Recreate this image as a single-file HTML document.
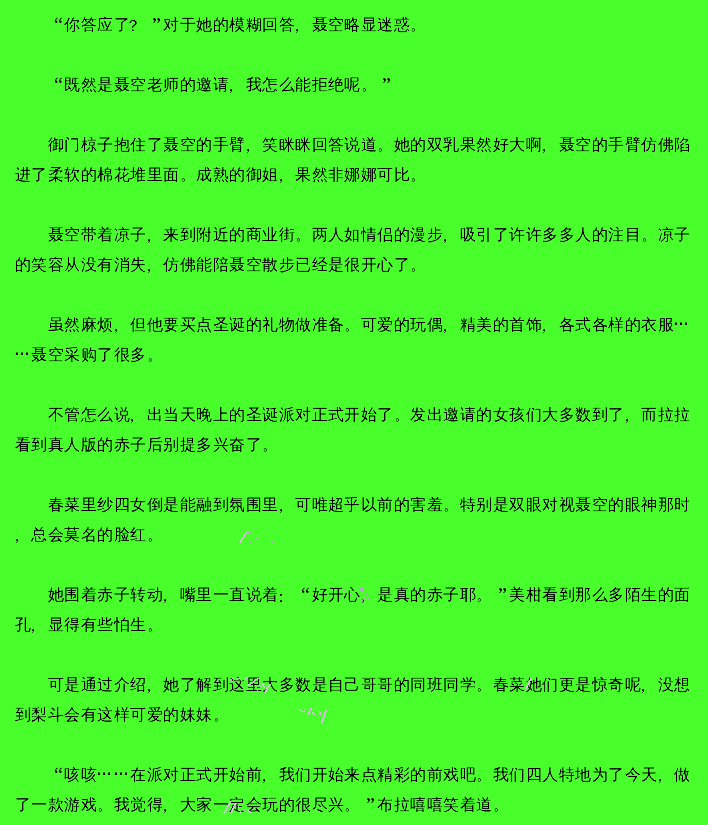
<!DOCTYPE html>
<html><head><meta charset="utf-8"><title>page</title>
<style>
html,body{margin:0;padding:0;}
body{width:708px;height:825px;overflow:hidden;background:#49ff2b;color:#000;position:relative;
font-family:"Liberation Sans",sans-serif;font-size:16px;}
#txt{position:absolute;left:0;top:0;width:708px;height:825px;filter:url(#crisp);}
.l{position:absolute;left:15px;line-height:30px;white-space:nowrap;}
.l span{display:inline-block;vertical-align:top;height:30px;overflow:visible;}
.a{width:16px} .b{width:17px}
.c{text-indent:-6px;position:relative;top:1px}
.k{text-indent:-6px;position:relative;top:2px}
.w{text-indent:-5px;position:relative;top:1px}
.ql,.qr{font-family:"Liberation Serif",serif;font-size:20px;text-indent:6px;position:relative;top:0px}
.qr{text-indent:5px}
.e{position:relative;top:-5px;text-indent:-1px;font-weight:bold}
</style></head><body>
<svg width="0" height="0" style="position:absolute"><filter id="crisp" x="0" y="0" width="100%" height="100%"><feComponentTransfer><feFuncA type="linear" slope="1.6" intercept="-0.3"/></feComponentTransfer></filter></svg>
<div id="txt">
<div class="l" style="top:10px"><span class="a">　</span><span class="b">　</span><span class="a ql">“</span><span class="b">你</span><span class="a">答</span><span class="b">应</span><span class="a">了</span><span class="b w">？</span><span class="a qr">”</span><span class="b">对</span><span class="a">于</span><span class="b">她</span><span class="a">的</span><span class="b">模</span><span class="a">糊</span><span class="b">回</span><span class="a">答</span><span class="b c">，</span><span class="a">聂</span><span class="a">空</span><span class="b">略</span><span class="a">显</span><span class="b">迷</span><span class="a">惑</span><span class="b p">。</span></div>
<div class="l" style="top:70px"><span class="a">　</span><span class="b">　</span><span class="a ql">“</span><span class="b">既</span><span class="a">然</span><span class="b">是</span><span class="a">聂</span><span class="b">空</span><span class="a">老</span><span class="b">师</span><span class="a">的</span><span class="b">邀</span><span class="a">请</span><span class="b c">，</span><span class="a">我</span><span class="b">怎</span><span class="a">么</span><span class="b">能</span><span class="a">拒</span><span class="a">绝</span><span class="b">呢</span><span class="a p">。</span><span class="b qr">”</span></div>
<div class="l" style="top:130px"><span class="a">　</span><span class="b">　</span><span class="a">御</span><span class="b">门</span><span class="a">椋</span><span class="b">子</span><span class="a">抱</span><span class="b">住</span><span class="a">了</span><span class="b">聂</span><span class="a">空</span><span class="b">的</span><span class="a">手</span><span class="b">臂</span><span class="a c">，</span><span class="b">笑</span><span class="a">眯</span><span class="b">眯</span><span class="a">回</span><span class="a">答</span><span class="b">说</span><span class="a">道</span><span class="b p">。</span><span class="a">她</span><span class="b">的</span><span class="a">双</span><span class="b">乳</span><span class="a">果</span><span class="b">然</span><span class="a">好</span><span class="b">大</span><span class="a">啊</span><span class="b c">，</span><span class="a">聂</span><span class="b">空</span><span class="a">的</span><span class="b">手</span><span class="a">臂</span><span class="b">仿</span><span class="a">佛</span><span class="a">陷</span></div>
<div class="l" style="top:160px"><span class="a">进</span><span class="b">了</span><span class="a">柔</span><span class="b">软</span><span class="a">的</span><span class="b">棉</span><span class="a">花</span><span class="b">堆</span><span class="a">里</span><span class="b">面</span><span class="a p">。</span><span class="b">成</span><span class="a">熟</span><span class="b">的</span><span class="a">御</span><span class="b">姐</span><span class="a c">，</span><span class="b">果</span><span class="a">然</span><span class="a">非</span><span class="b">娜</span><span class="a">娜</span><span class="b">可</span><span class="a">比</span><span class="b p">。</span></div>
<div class="l" style="top:220px"><span class="a">　</span><span class="b">　</span><span class="a">聂</span><span class="b">空</span><span class="a">带</span><span class="b">着</span><span class="a">凉</span><span class="b">子</span><span class="a c">，</span><span class="b">来</span><span class="a">到</span><span class="b">附</span><span class="a">近</span><span class="b">的</span><span class="a">商</span><span class="b">业</span><span class="a">街</span><span class="b p">。</span><span class="a">两</span><span class="a">人</span><span class="b">如</span><span class="a">情</span><span class="b">侣</span><span class="a">的</span><span class="b">漫</span><span class="a">步</span><span class="b c">，</span><span class="a">吸</span><span class="b">引</span><span class="a">了</span><span class="b">许</span><span class="a">许</span><span class="b">多</span><span class="a">多</span><span class="b">人</span><span class="a">的</span><span class="b">注</span><span class="a">目</span><span class="b p">。</span><span class="a">凉</span><span class="a">子</span></div>
<div class="l" style="top:250px"><span class="a">的</span><span class="b">笑</span><span class="a">容</span><span class="b">从</span><span class="a">没</span><span class="b">有</span><span class="a">消</span><span class="b">失</span><span class="a c">，</span><span class="b">仿</span><span class="a">佛</span><span class="b">能</span><span class="a">陪</span><span class="b">聂</span><span class="a">空</span><span class="b">散</span><span class="a">步</span><span class="b">已</span><span class="a">经</span><span class="a">是</span><span class="b">很</span><span class="a">开</span><span class="b">心</span><span class="a">了</span><span class="b p">。</span></div>
<div class="l" style="top:310px"><span class="a">　</span><span class="b">　</span><span class="a">虽</span><span class="b">然</span><span class="a">麻</span><span class="b">烦</span><span class="a c">，</span><span class="b">但</span><span class="a">他</span><span class="b">要</span><span class="a">买</span><span class="b">点</span><span class="a">圣</span><span class="b">诞</span><span class="a">的</span><span class="b">礼</span><span class="a">物</span><span class="b">做</span><span class="a">准</span><span class="a">备</span><span class="b p">。</span><span class="a">可</span><span class="b">爱</span><span class="a">的</span><span class="b">玩</span><span class="a">偶</span><span class="b c">，</span><span class="a">精</span><span class="b">美</span><span class="a">的</span><span class="b">首</span><span class="a">饰</span><span class="b c">，</span><span class="a">各</span><span class="b">式</span><span class="a">各</span><span class="b">样</span><span class="a">的</span><span class="b">衣</span><span class="a">服</span><span class="a e">…</span></div>
<div class="l" style="top:340px"><span class="a e">…</span><span class="b">聂</span><span class="a">空</span><span class="b">采</span><span class="a">购</span><span class="b">了</span><span class="a">很</span><span class="b">多</span><span class="a p">。</span></div>
<div class="l" style="top:400px"><span class="a">　</span><span class="b">　</span><span class="a">不</span><span class="b">管</span><span class="a">怎</span><span class="b">么</span><span class="a">说</span><span class="b c">，</span><span class="a">出</span><span class="b">当</span><span class="a">天</span><span class="b">晚</span><span class="a">上</span><span class="b">的</span><span class="a">圣</span><span class="b">诞</span><span class="a">派</span><span class="b">对</span><span class="a">正</span><span class="a">式</span><span class="b">开</span><span class="a">始</span><span class="b">了</span><span class="a p">。</span><span class="b">发</span><span class="a">出</span><span class="b">邀</span><span class="a">请</span><span class="b">的</span><span class="a">女</span><span class="b">孩</span><span class="a">们</span><span class="b">大</span><span class="a">多</span><span class="b">数</span><span class="a">到</span><span class="b">了</span><span class="a c">，</span><span class="b">而</span><span class="a">拉</span><span class="a">拉</span></div>
<div class="l" style="top:430px"><span class="a">看</span><span class="b">到</span><span class="a">真</span><span class="b">人</span><span class="a">版</span><span class="b">的</span><span class="a">赤</span><span class="b">子</span><span class="a">后</span><span class="b">别</span><span class="a">提</span><span class="b">多</span><span class="a">兴</span><span class="b">奋</span><span class="a">了</span><span class="b p">。</span></div>
<div class="l" style="top:490px"><span class="a">　</span><span class="b">　</span><span class="a">春</span><span class="b">菜</span><span class="a">里</span><span class="b">纱</span><span class="a">四</span><span class="b">女</span><span class="a">倒</span><span class="b">是</span><span class="a">能</span><span class="b">融</span><span class="a">到</span><span class="b">氛</span><span class="a">围</span><span class="b">里</span><span class="a c">，</span><span class="b">可</span><span class="a">唯</span><span class="a">超</span><span class="b">乎</span><span class="a">以</span><span class="b">前</span><span class="a">的</span><span class="b">害</span><span class="a">羞</span><span class="b p">。</span><span class="a">特</span><span class="b">别</span><span class="a">是</span><span class="b">双</span><span class="a">眼</span><span class="b">对</span><span class="a">视</span><span class="b">聂</span><span class="a">空</span><span class="b">的</span><span class="a">眼</span><span class="b">神</span><span class="a">那</span><span class="a">时</span></div>
<div class="l" style="top:520px"><span class="a c">，</span><span class="b">总</span><span class="a">会</span><span class="b">莫</span><span class="a">名</span><span class="b">的</span><span class="a">脸</span><span class="b">红</span><span class="a p">。</span></div>
<div class="l" style="top:580px"><span class="a">　</span><span class="b">　</span><span class="a">她</span><span class="b">围</span><span class="a">着</span><span class="b">赤</span><span class="a">子</span><span class="b">转</span><span class="a">动</span><span class="b c">，</span><span class="a">嘴</span><span class="b">里</span><span class="a">一</span><span class="b">直</span><span class="a">说</span><span class="b">着</span><span class="a k">：</span><span class="b ql">“</span><span class="a">好</span><span class="a">开</span><span class="b">心</span><span class="a c">，</span><span class="b">是</span><span class="a">真</span><span class="b">的</span><span class="a">赤</span><span class="b">子</span><span class="a">耶</span><span class="b p">。</span><span class="a qr">”</span><span class="b">美</span><span class="a">柑</span><span class="b">看</span><span class="a">到</span><span class="b">那</span><span class="a">么</span><span class="b">多</span><span class="a">陌</span><span class="b">生</span><span class="a">的</span><span class="a">面</span></div>
<div class="l" style="top:610px"><span class="a">孔</span><span class="b c">，</span><span class="a">显</span><span class="b">得</span><span class="a">有</span><span class="b">些</span><span class="a">怕</span><span class="b">生</span><span class="a p">。</span></div>
<div class="l" style="top:670px"><span class="a">　</span><span class="b">　</span><span class="a">可</span><span class="b">是</span><span class="a">通</span><span class="b">过</span><span class="a">介</span><span class="b">绍</span><span class="a c">，</span><span class="b">她</span><span class="a">了</span><span class="b">解</span><span class="a">到</span><span class="b">这</span><span class="a">里</span><span class="b">大</span><span class="a">多</span><span class="b">数</span><span class="a">是</span><span class="a">自</span><span class="b">己</span><span class="a">哥</span><span class="b">哥</span><span class="a">的</span><span class="b">同</span><span class="a">班</span><span class="b">同</span><span class="a">学</span><span class="b p">。</span><span class="a">春</span><span class="b">菜</span><span class="a">她</span><span class="b">们</span><span class="a">更</span><span class="b">是</span><span class="a">惊</span><span class="b">奇</span><span class="a">呢</span><span class="b c">，</span><span class="a">没</span><span class="a">想</span></div>
<div class="l" style="top:700px"><span class="a">到</span><span class="b">梨</span><span class="a">斗</span><span class="b">会</span><span class="a">有</span><span class="b">这</span><span class="a">样</span><span class="b">可</span><span class="a">爱</span><span class="b">的</span><span class="a">妹</span><span class="b">妹</span><span class="a p">。</span></div>
<div class="l" style="top:760px"><span class="a">　</span><span class="b">　</span><span class="a ql">“</span><span class="b">咳</span><span class="a">咳</span><span class="b e">…</span><span class="a e">…</span><span class="b">在</span><span class="a">派</span><span class="b">对</span><span class="a">正</span><span class="b">式</span><span class="a">开</span><span class="b">始</span><span class="a">前</span><span class="b c">，</span><span class="a">我</span><span class="b">们</span><span class="a">开</span><span class="a">始</span><span class="b">来</span><span class="a">点</span><span class="b">精</span><span class="a">彩</span><span class="b">的</span><span class="a">前</span><span class="b">戏</span><span class="a">吧</span><span class="b p">。</span><span class="a">我</span><span class="b">们</span><span class="a">四</span><span class="b">人</span><span class="a">特</span><span class="b">地</span><span class="a">为</span><span class="b">了</span><span class="a">今</span><span class="b">天</span><span class="a c">，</span><span class="a">做</span></div>
<div class="l" style="top:790px"><span class="a">了</span><span class="b">一</span><span class="a">款</span><span class="b">游</span><span class="a">戏</span><span class="b p">。</span><span class="a">我</span><span class="b">觉</span><span class="a">得</span><span class="b c">，</span><span class="a">大</span><span class="b">家</span><span class="a">一</span><span class="b">定</span><span class="a">会</span><span class="b">玩</span><span class="a">的</span><span class="b">很</span><span class="a">尽</span><span class="a">兴</span><span class="b p">。</span><span class="a qr">”</span><span class="b">布</span><span class="a">拉</span><span class="b">嘻</span><span class="a">嘻</span><span class="b">笑</span><span class="a">着</span><span class="b">道</span><span class="a p">。</span></div>
</div>
<svg id="wm" width="708" height="825" style="position:absolute;left:0;top:0"><path fill="#d2c0dc" d="M223 813h1v1h-1zM224 811h1v1h-1zM224 812h1v1h-1zM224 813h1v1h-1zM225 809h1v1h-1zM225 810h1v1h-1zM225 811h1v1h-1zM225 812h1v1h-1zM226 807h1v1h-1zM226 808h1v1h-1zM226 809h1v1h-1zM226 810h1v1h-1zM227 806h1v1h-1zM227 807h1v1h-1zM227 808h1v1h-1zM228 804h1v1h-1zM228 805h1v1h-1zM228 806h1v1h-1zM229 802h1v1h-1zM229 803h1v1h-1zM229 804h1v1h-1zM229 805h1v1h-1zM230 680h1v1h-1zM230 801h1v1h-1zM230 802h1v1h-1zM230 803h1v1h-1zM230 812h1v1h-1zM231 679h1v1h-1zM231 801h1v1h-1zM231 810h1v1h-1zM231 811h1v1h-1zM231 812h1v1h-1zM232 678h1v1h-1zM232 808h1v1h-1zM232 809h1v1h-1zM232 810h1v1h-1zM232 811h1v1h-1zM233 677h1v1h-1zM233 806h1v1h-1zM233 807h1v1h-1zM233 808h1v1h-1zM233 809h1v1h-1zM234 804h1v1h-1zM234 805h1v1h-1zM234 806h1v1h-1zM234 807h1v1h-1zM235 803h1v1h-1zM235 804h1v1h-1zM235 805h1v1h-1zM236 803h1v1h-1zM237 679h1v1h-1zM238 678h1v1h-1zM238 806h1v1h-1zM238 807h1v1h-1zM239 542h1v1h-1zM239 678h1v1h-1zM239 808h1v1h-1zM239 809h1v1h-1zM239 810h1v1h-1zM240 540h1v1h-1zM240 541h1v1h-1zM240 542h1v1h-1zM240 677h1v1h-1zM240 811h1v1h-1zM240 812h1v1h-1zM241 538h1v1h-1zM241 539h1v1h-1zM241 540h1v1h-1zM241 541h1v1h-1zM242 537h1v1h-1zM242 538h1v1h-1zM242 539h1v1h-1zM243 535h1v1h-1zM243 536h1v1h-1zM243 537h1v1h-1zM244 533h1v1h-1zM244 534h1v1h-1zM244 535h1v1h-1zM244 536h1v1h-1zM244 679h1v1h-1zM245 532h1v1h-1zM245 533h1v1h-1zM245 534h1v1h-1zM245 678h1v1h-1zM245 679h1v1h-1zM246 532h1v1h-1zM246 677h1v1h-1zM246 678h1v1h-1zM247 532h1v1h-1zM247 677h1v1h-1zM247 685h1v1h-1zM247 810h1v1h-1zM248 532h1v1h-1zM248 684h1v1h-1zM248 685h1v1h-1zM248 810h1v1h-1zM248 811h1v1h-1zM249 684h1v1h-1zM249 811h1v1h-1zM250 683h1v1h-1zM250 684h1v1h-1zM250 811h1v1h-1zM250 812h1v1h-1zM251 682h1v1h-1zM251 683h1v1h-1zM251 812h1v1h-1zM252 682h1v1h-1zM253 681h1v1h-1zM253 682h1v1h-1zM254 680h1v1h-1zM254 681h1v1h-1zM255 679h1v1h-1zM255 680h1v1h-1zM255 687h1v1h-1zM256 679h1v1h-1zM256 687h1v1h-1zM257 678h1v1h-1zM257 679h1v1h-1zM257 690h1v1h-1zM258 678h1v1h-1zM259 681h1v1h-1zM259 685h1v1h-1zM260 686h1v1h-1zM260 689h1v1h-1zM261 686h1v1h-1zM262 683h1v1h-1zM262 684h1v1h-1zM262 685h1v1h-1zM263 683h1v1h-1zM263 684h1v1h-1zM263 685h1v1h-1zM263 686h1v1h-1zM263 687h1v1h-1zM264 686h1v1h-1zM264 687h1v1h-1zM264 692h1v1h-1zM265 690h1v1h-1zM265 691h1v1h-1zM265 692h1v1h-1zM266 688h1v1h-1zM266 689h1v1h-1zM266 690h1v1h-1zM266 691h1v1h-1zM267 687h1v1h-1zM267 688h1v1h-1zM267 689h1v1h-1zM268 685h1v1h-1zM268 686h1v1h-1zM268 687h1v1h-1zM269 684h1v1h-1zM269 685h1v1h-1zM269 686h1v1h-1zM269 690h1v1h-1zM270 684h1v1h-1zM271 689h1v1h-1zM298 709h1v1h-1zM299 709h1v1h-1zM299 710h1v1h-1zM300 710h1v1h-1zM301 710h1v1h-1zM301 711h1v1h-1zM302 711h1v1h-1zM303 711h1v1h-1zM304 710h1v1h-1zM304 711h1v1h-1zM305 709h1v1h-1zM307 714h1v1h-1zM308 711h1v1h-1zM308 712h1v1h-1zM308 713h1v1h-1zM308 714h1v1h-1zM309 710h1v1h-1zM309 711h1v1h-1zM309 712h1v1h-1zM309 713h1v1h-1zM310 708h1v1h-1zM310 709h1v1h-1zM310 710h1v1h-1zM311 708h1v1h-1zM311 709h1v1h-1zM311 716h1v1h-1zM312 712h1v1h-1zM312 713h1v1h-1zM312 717h1v1h-1zM313 712h1v1h-1zM313 713h1v1h-1zM313 714h1v1h-1zM314 714h1v1h-1zM318 711h1v1h-1zM318 717h1v1h-1zM319 711h1v1h-1zM319 712h1v1h-1zM319 713h1v1h-1zM319 718h1v1h-1zM320 712h1v1h-1zM320 713h1v1h-1zM320 714h1v1h-1zM321 714h1v1h-1zM321 721h1v1h-1zM321 722h1v1h-1zM322 718h1v1h-1zM322 719h1v1h-1zM322 720h1v1h-1zM322 721h1v1h-1zM322 722h1v1h-1zM323 715h1v1h-1zM323 716h1v1h-1zM323 717h1v1h-1zM323 718h1v1h-1zM323 719h1v1h-1zM323 720h1v1h-1zM324 712h1v1h-1zM324 713h1v1h-1zM324 714h1v1h-1zM324 715h1v1h-1zM324 716h1v1h-1zM324 717h1v1h-1zM325 710h1v1h-1zM325 711h1v1h-1zM325 712h1v1h-1zM325 713h1v1h-1zM325 714h1v1h-1zM326 710h1v1h-1zM326 711h1v1h-1zM375 599h1v1h-1zM376 599h1v1h-1zM379 602h1v1h-1zM525 688h1v1h-1zM526 685h1v1h-1zM526 686h1v1h-1zM526 687h1v1h-1zM526 688h1v1h-1zM527 684h1v1h-1zM527 685h1v1h-1zM527 686h1v1h-1zM527 687h1v1h-1zM528 681h1v1h-1zM528 682h1v1h-1zM528 683h1v1h-1zM528 684h1v1h-1zM529 680h1v1h-1zM529 681h1v1h-1zM529 682h1v1h-1zM529 683h1v1h-1zM530 678h1v1h-1zM530 679h1v1h-1zM530 680h1v1h-1zM531 678h1v1h-1zM531 679h1v1h-1z"/><path fill="#b4a8c0" d="M241 680h1v1h-1zM244 810h1v1h-1zM247 536h1v1h-1zM250 532h1v1h-1zM250 535h1v1h-1zM250 542h1v1h-1zM252 541h1v1h-1zM256 538h1v1h-1zM272 542h1v1h-1zM291 707h1v1h-1zM343 592h1v1h-1zM344 590h1v1h-1zM344 591h1v1h-1zM345 588h1v1h-1zM345 589h1v1h-1zM346 587h1v1h-1zM350 594h1v1h-1zM355 591h1v1h-1zM355 598h1v1h-1zM357 596h1v1h-1zM360 587h1v1h-1zM360 588h1v1h-1zM360 589h1v1h-1zM360 590h1v1h-1zM360 601h1v1h-1zM361 600h1v1h-1zM362 588h1v1h-1zM362 589h1v1h-1zM362 590h1v1h-1zM362 600h1v1h-1zM363 594h1v1h-1zM363 599h1v1h-1zM364 598h1v1h-1zM365 591h1v1h-1zM365 593h1v1h-1zM366 594h1v1h-1zM368 595h1v1h-1zM368 598h1v1h-1zM370 591h1v1h-1zM521 679h1v1h-1z"/></svg>
</body></html>
